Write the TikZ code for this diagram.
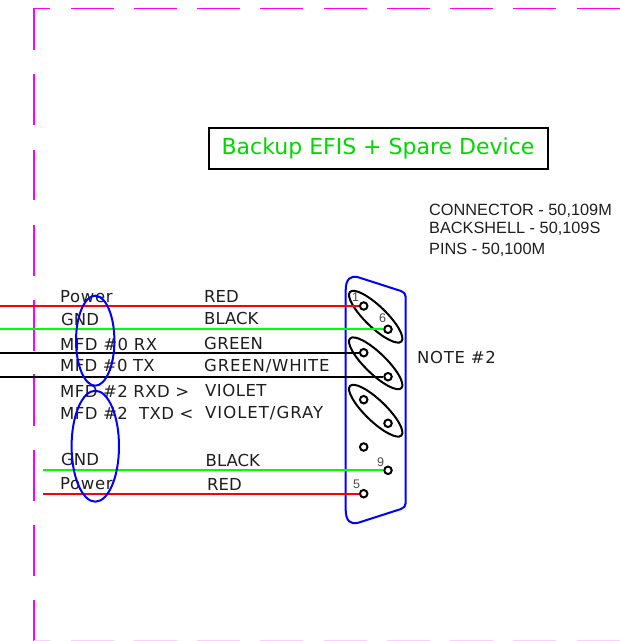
\documentclass[tikz,border=0pt]{standalone}
\usepackage{fontspec}
\setmainfont{DejaVu Sans}
\newfontfamily\arialf{Liberation Sans}
\definecolor{mag}{RGB}{255,0,255}
\definecolor{palemag}{RGB}{255,204,255}
\definecolor{wgreen}{RGB}{0,255,0}
\definecolor{ink}{RGB}{30,30,30}
\newcommand{\ls}[2]{{\addfontfeatures{LetterSpace=#1}#2}}
\tikzset{
  frameline/.style={draw=mag,line width=2bp},
  paleline/.style={draw=palemag,line width=2bp},
  shell/.style={draw=blue,line width=2bp},
  oval/.style={draw=black,line width=2bp},
  pin/.style={circle,draw=black,line width=2bp,fill=white,minimum size=7.5bp,inner sep=0pt},
  marker/.style={draw=blue,line width=2bp},
  redw/.style={draw=red,line width=2bp},
  greenw/.style={draw=wgreen,line width=2bp},
  blackw/.style={draw=black,line width=2bp},
  lab/.style={anchor=base west,inner sep=0pt,text=ink,font=\fontsize{16.5bp}{18bp}\selectfont},
  note/.style={anchor=base west,inner sep=0pt,text=ink,font=\arialf\fontsize{16.3bp}{18bp}\selectfont},
  num/.style={inner sep=0pt,text=ink!80,font=\arialf\fontsize{12.5bp}{13bp}\selectfont},
}
\begin{document}
\begin{tikzpicture}[x=1bp,y=-1bp]
\useasboundingbox (0,0) rectangle (620,641);
% frame
\draw[frameline,line width=1.6bp] (50,8.7) -- (33.6,8.7);
\draw[frameline] (33.6,8) -- (33.6,50);
\foreach \a in {71,134,197,260,324,387,450,513,577}
  \draw[frameline,line width=1.6bp] (\a,8.7) -- ++(43,0);
\foreach \a/\b in {74/125,150/200,225/276,300/351,374/426,450/501,525/576}
  \draw[frameline] (33.6,\a) -- (33.6,\b);
\draw[frameline] (33.6,600) -- (33.6,641);
\draw[paleline] (33.6,640.6) -- (50,640.6);
\foreach \a in {71,134,197,260,324,387,450,513,577}
  \draw[paleline] (\a,640.6) -- ++(43,0);
% title
\node[draw=black,line width=2bp,minimum width=339bp,minimum height=40bp,inner sep=0pt,anchor=north west,text=wgreen!85!black,font=\fontsize{22bp}{24bp}\selectfont] (title) at (207.5,127.5) {\raisebox{-1bp}{Backup EFIS + Spare Device}};
% notes
\node[note] (n1) at (429,215) {CONNECTOR - 50,109M};
\node[note] (n2) at (429,233) {BACKSHELL - 50,109S};
\node[note] (n3) at (429,254) {PINS - 50,100M};
\node[lab] (note2) at (417,363) {\ls{4}{NOTE \#2}};
% connector
\draw[shell] (345.7,290) .. controls (345.7,280) and (350,274.5) .. (359,277.5)
  -- (401,291) .. controls (404,292) and (405.7,294) .. (405.7,297)
  -- (405.7,503) .. controls (405.7,506) and (404,508) .. (401,509)
  -- (359,522.5) .. controls (350,525.5) and (345.7,520) .. (345.7,510) -- cycle;
\foreach \c in {316.7,363.3,410.7}
  \draw[oval,rotate around={-44:(375.7,\c)}] (375.7,\c) ellipse [x radius=35.7,y radius=10.5];
% wire ends
\coordinate (l1) at (0,306);
\coordinate (l2) at (0,329.3);
\coordinate (l3) at (0,352.7);
\coordinate (l4) at (0,376.7);
\coordinate (l5) at (43.3,470.3);
\coordinate (l6) at (43.3,493.7);
% pins
\node[pin] (p1) at (363.7,306) {};
\node[pin] (p6) at (388,329.3) {};
\node[pin] (p2) at (363.7,352.7) {};
\node[pin] (p7) at (388,376.7) {};
\node[pin] (p3) at (363.7,399.7) {};
\node[pin] (p8) at (388,423.3) {};
\node[pin] (p4) at (363.7,447) {};
\node[pin] (p9) at (388,470.3) {};
\node[pin] (p5) at (363.7,493.7) {};
% wires
\draw[redw] (l1) -- (p1);
\draw[greenw] (l2) -- (p6);
\draw[blackw] (l3) -- (p2);
\draw[blackw] (l4) -- (p7);
\draw[greenw] (l5) -- (p9);
\draw[redw] (l6) -- (p5);
% pin numbers
\node[num] (t1) at (355.7,297.3) {1};
\node[num] (t6) at (382.7,318.3) {6};
\node[num] (t9) at (380.7,461.7) {9};
\node[num] (t5) at (356.7,484) {5};
% labels
\node[lab] (a1) at (60,302) {\ls{4}{Power}};
\node[lab] (a2) at (61,325.7) {GND};
\node[lab] (a3) at (60,350) {\ls{3}{MFD \#0 RX}};
\node[lab] (a4) at (60,371.7) {\ls{2}{MFD \#0 TX}};
\node[lab] (a5) at (60,397.3) {\ls{2.5}{MFD \#2 RXD >}};
\node[lab] (a6) at (60,419.3) {\ls{2.5}{MFD \#2\ \ TXD <}};
\node[lab] (a7) at (61,465.7) {GND};
\node[lab] (a8) at (60,489) {\ls{4}{Power}};
\node[lab] (b1) at (204,302.7) {RED};
\node[lab] (b2) at (204,324.7) {BLACK};
\node[lab] (b3) at (204,349) {\ls{2}{GREEN}};
\node[lab] (b4) at (204,371.7) {\ls{5}{GREEN/WHITE}};
\node[lab] (b5) at (205,396.7) {\ls{3}{VIOLET}};
\node[lab] (b6) at (205,418.3) {\ls{6}{VIOLET/GRAY}};
\node[lab] (b7) at (205.5,466.7) {BLACK};
\node[lab] (b8) at (207,490.7) {RED};
% blue markers
\draw[marker] (95.2,340.7) ellipse [x radius=19.2,y radius=45];
\draw[marker] (95.3,446.2) ellipse [x radius=23.7,y radius=55.5];
\end{tikzpicture}
\end{document}
